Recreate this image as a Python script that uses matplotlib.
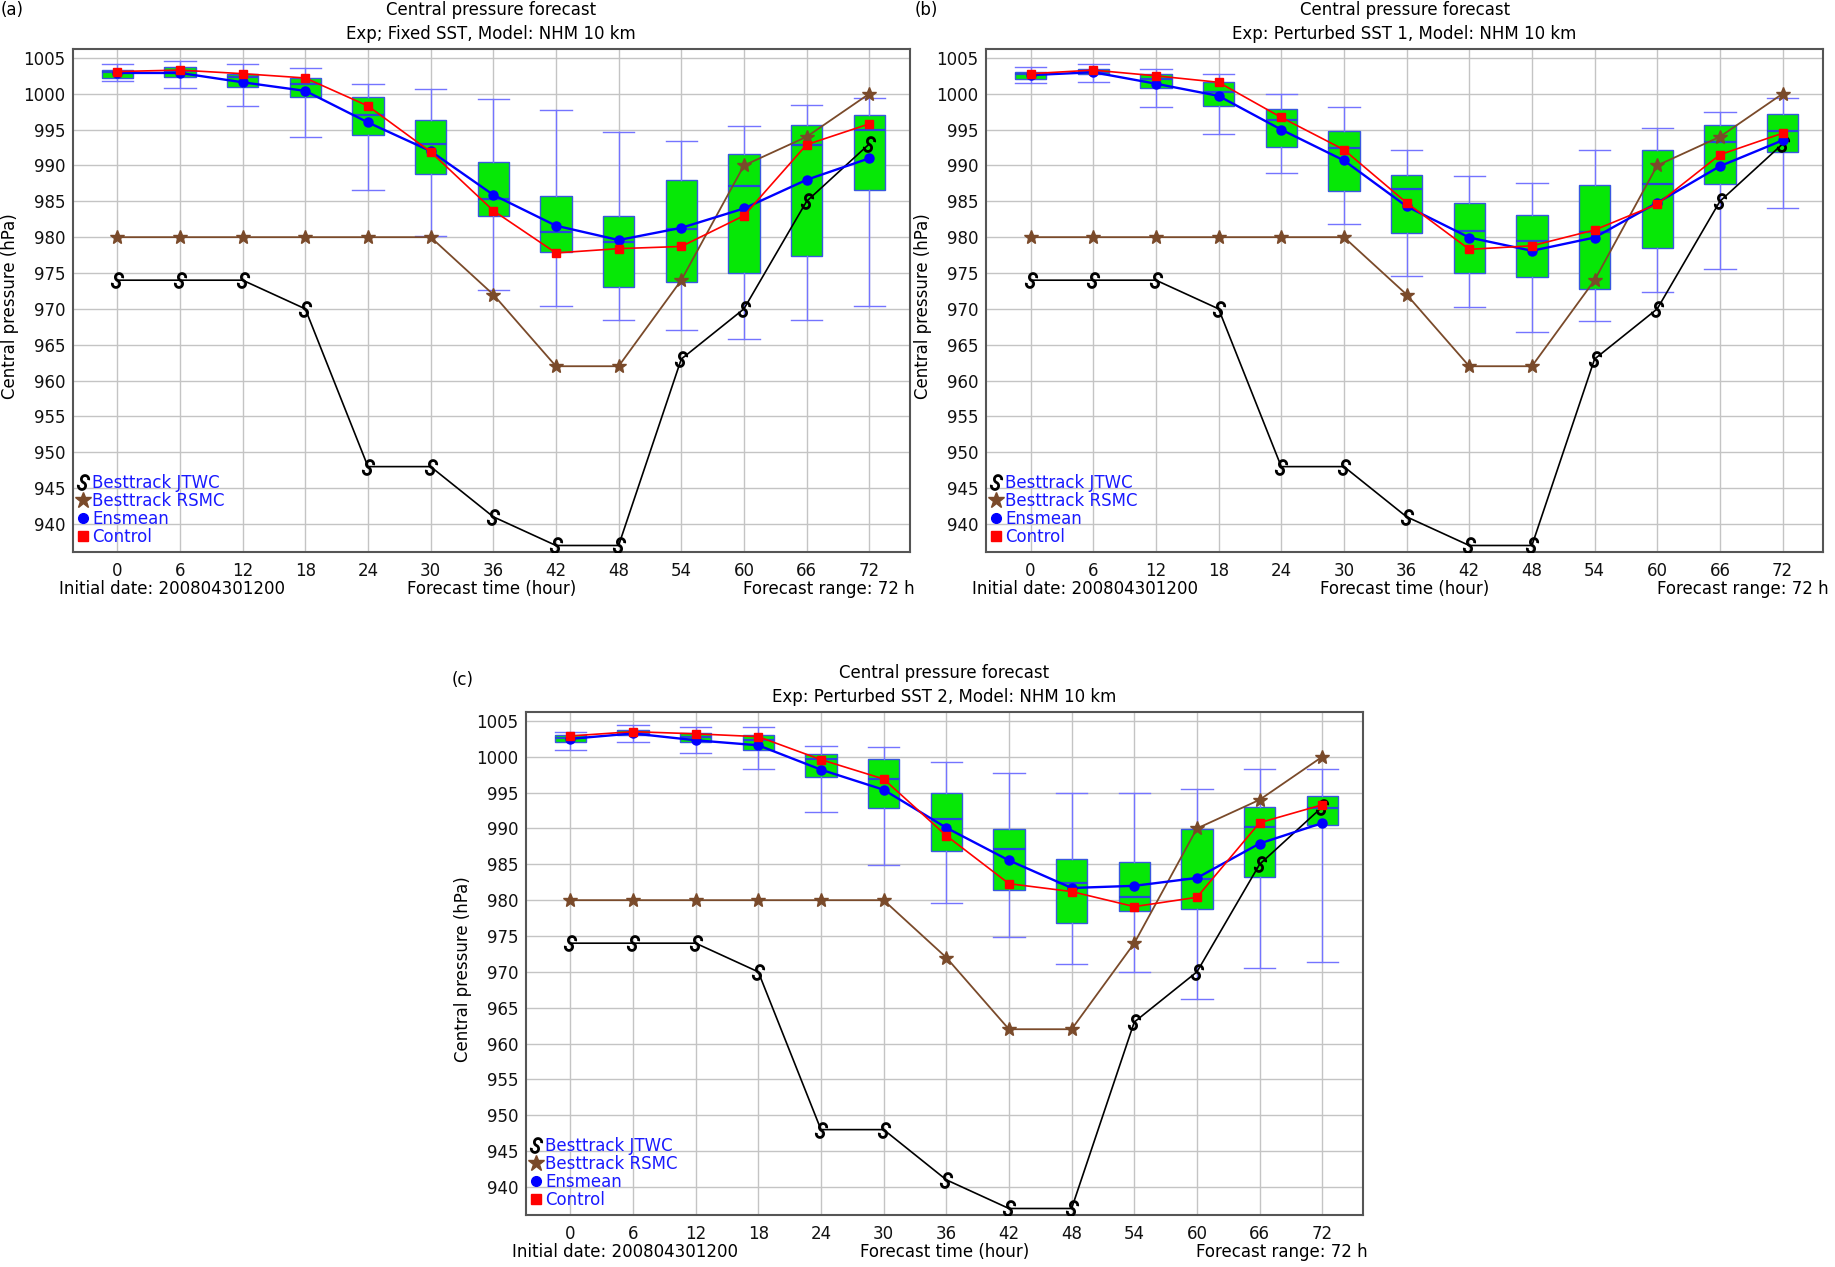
import matplotlib
matplotlib.use("Agg")
import matplotlib.pyplot as plt
import numpy as np
from matplotlib.lines import Line2D
from matplotlib.path import Path

plt.rcParams["font.family"] = ["DejaVu Sans"]

HOURS = [0, 6, 12, 18, 24, 30, 36, 42, 48, 54, 60, 66, 72]

# best track (same in all panels)
JTWC = [974, 974, 974, 970, 948, 948, 941, 937, 937, 963, 970, 985, 993]
RSMC = [980, 980, 980, 980, 980, 980, 972, 962, 962, 974, 990, 994, 1000]

# (a) Fixed SST
ENS_A = [1002.9, 1002.9, 1001.6, 1000.4, 996.0, 992.0, 985.9, 981.6, 979.6, 981.3, 984.0, 988.0, 991.0]
CTL_A = [1003.1, 1003.3, 1002.8, 1002.2, 998.3, 991.9, 983.7, 977.8, 978.4, 978.7, 983.0, 992.9, 995.8]
WLO_A = [1001.8, 1000.85, 998.3, 994.0, 986.6, 980.2, 972.6, 970.4, 968.5, 967.1, 965.8, 968.5, 970.4]
Q1_A = [1002.2, 1002.4, 1001.0, 999.5, 994.3, 988.8, 983.0, 977.95, 973.1, 973.8, 975.0, 977.4, 986.6]
MED_A = [1003.0, 1003.2, 1002.3, 1001.4, 997.0, 993.0, 985.3, 980.7, 979.3, 981.1, 987.1, 992.9, 995.0]
Q3_A = [1003.25, 1003.8, 1002.8, 1002.2, 999.6, 996.3, 990.5, 985.7, 982.95, 988.0, 991.6, 995.7, 997.0]
WHI_A = [1004.15, 1004.6, 1004.15, 1003.55, 1001.3, 1000.6, 999.25, 997.75, 994.65, 993.4, 995.5, 998.5, 999.4]

# (b) Perturbed SST 1
ENS_B = [1002.6, 1003.0, 1001.4, 999.7, 995.0, 990.7, 984.3, 979.95, 978.1, 979.95, 984.8, 989.9, 993.5]
CTL_B = [1002.8, 1003.3, 1002.5, 1001.6, 996.7, 992.2, 984.8, 978.3, 978.8, 981.0, 984.6, 991.5, 994.5]
WLO_B = [1001.5, 1001.6, 998.1, 994.4, 989.0, 981.8, 974.6, 970.2, 966.75, 968.25, 972.3, 975.6, 984.0]
Q1_B = [1002.1, 1002.7, 1000.75, 998.25, 992.6, 986.4, 980.6, 975.05, 974.5, 972.8, 978.5, 987.4, 991.9]
MED_B = [1002.7, 1003.0, 1002.1, 1000.3, 996.3, 992.4, 986.7, 980.9, 979.5, 980.7, 987.4, 993.3, 994.8]
Q3_B = [1003.0, 1003.5, 1002.7, 1001.6, 997.9, 994.8, 988.7, 984.8, 983.1, 987.3, 992.2, 995.6, 997.2]
WHI_B = [1003.7, 1004.1, 1003.5, 1002.7, 1000.0, 998.1, 992.1, 988.5, 987.6, 992.2, 995.2, 997.4, 999.4]

# (c) Perturbed SST 2
ENS_C = [1002.5, 1003.25, 1002.3, 1001.6, 998.2, 995.4, 990.1, 985.55, 981.7, 982.0, 983.1, 987.9, 990.75]
CTL_C = [1002.9, 1003.5, 1003.2, 1002.8, 999.6, 996.9, 989.0, 982.3, 981.2, 979.1, 980.4, 990.8, 993.3]
WLO_C = [1001.0, 1002.1, 1000.5, 998.3, 992.3, 984.85, 979.6, 974.8, 971.05, 970.0, 966.2, 970.5, 971.4]
Q1_C = [1002.0, 1003.0, 1002.0, 1000.9, 997.2, 992.9, 986.8, 981.45, 976.8, 978.5, 978.8, 983.2, 990.5]
MED_C = [1002.6, 1003.25, 1002.75, 1002.3, 999.7, 996.95, 991.3, 987.2, 982.4, 980.4, 982.9, 990.2, 992.8]
Q3_C = [1003.0, 1003.8, 1003.3, 1003.1, 1000.35, 999.7, 994.9, 989.9, 985.7, 985.3, 989.9, 993.0, 994.5]
WHI_C = [1003.5, 1004.45, 1004.2, 1004.1, 1001.55, 1001.3, 999.25, 997.7, 995.0, 994.9, 995.5, 998.3, 998.3]

PANELS = [
    ("(a)", "Exp; Fixed SST, Model: NHM 10 km", ENS_A, CTL_A, WLO_A, Q1_A, MED_A, Q3_A, WHI_A),
    ("(b)", "Exp: Perturbed SST 1, Model: NHM 10 km", ENS_B, CTL_B, WLO_B, Q1_B, MED_B, Q3_B, WHI_B),
    ("(c)", "Exp: Perturbed SST 2, Model: NHM 10 km", ENS_C, CTL_C, WLO_C, Q1_C, MED_C, Q3_C, WHI_C),
]

W, H = 1835, 1267
AX_W, AX_H = 837.3, 503.0
# axes (left, top) in pixels
AX_POS = [(72.7, 49.3), (986.0, 49.3), (525.7, 712.3)]
LABEL_POS = [(1, 10), (915, 10), (452, 680)]

BROWN = "#7a4a2a"
TEXT_BLUE = "#1a1aff"
FS = 12


def typhoon_marker():
    # S-shaped tropical cyclone glyph
    t1 = np.linspace(np.radians(10), np.radians(270), 30)
    top = np.column_stack([0.42 * np.cos(t1), 0.42 + 0.42 * np.sin(t1)])
    t2 = np.linspace(np.radians(90), np.radians(-170), 30)
    bot = np.column_stack([0.42 * np.cos(t2), -0.42 + 0.42 * np.sin(t2)])
    verts = np.vstack([top, bot])
    rot = np.radians(-25)
    R = np.array([[np.cos(rot), -np.sin(rot)], [np.sin(rot), np.cos(rot)]])
    verts = verts @ R.T
    return Path(verts)


TY = typhoon_marker()


def draw_panel(fig, idx, label, exp, ens, ctl, wlo, q1, med, q3, whi):
    left, top = AX_POS[idx]
    ax = fig.add_axes([left / W, 1 - (top + AX_H) / H, AX_W / W, AX_H / H])

    stats = []
    for lo, a, m, b, hi in zip(wlo, q1, med, q3, whi):
        stats.append({"whislo": lo, "q1": a, "med": m, "q3": b, "whishi": hi, "fliers": []})
    ax.bxp(stats, positions=HOURS, widths=3.0, capwidths=3.0, patch_artist=True,
           showfliers=False, manage_ticks=False,
           boxprops=dict(facecolor="#06e806", edgecolor="#3858e0", linewidth=1.0),
           whiskerprops=dict(color="#7474ff", linewidth=1.0),
           capprops=dict(color="#7474ff", linewidth=1.0),
           medianprops=dict(color="#2848d8", linewidth=1.6))

    ax.plot(HOURS, JTWC, color="black", lw=1.2, marker=TY, ms=10,
            mfc="none", mec="black", mew=2.0, zorder=4)
    ax.plot(HOURS, RSMC, color=BROWN, lw=1.3, marker="*", ms=10,
            mfc=BROWN, mec=BROWN, zorder=4)
    ax.plot(HOURS, ens, color="#0000ff", lw=1.7, marker="o", ms=6.5, zorder=5)
    ax.plot(HOURS, ctl, color="#ff0000", lw=1.2, marker="s", ms=6, zorder=6)

    ax.set_xlim(-4.27, 75.9)
    ax.set_ylim(936.05, 1006.2)
    ax.set_xticks(HOURS)
    ax.set_yticks(np.arange(940, 1006, 5))
    ax.tick_params(length=0, labelsize=FS, colors="#111111")
    ax.tick_params(axis="x", pad=7)
    ax.tick_params(axis="y", pad=5.5)
    ax.grid(True, color="#c4c4c4", lw=1.0)
    ax.set_axisbelow(True)
    for sp in ax.spines.values():
        sp.set_color("#555555")
        sp.set_linewidth(1.5)

    ax.set_ylabel("Central pressure (hPa)", fontsize=FS, va="center")
    ax.yaxis.set_label_coords(-63 / AX_W, 0.49)

    ax.annotate("Central pressure forecast", xy=(0.5, 1), xycoords="axes fraction",
                xytext=(0, 28.5), textcoords="offset points", ha="center", va="center",
                fontsize=FS)
    ax.annotate(exp, xy=(0.5, 1), xycoords="axes fraction",
                xytext=(0, 10.8), textcoords="offset points", ha="center", va="center",
                fontsize=FS)

    ax.annotate("Initial date: 200804301200", xy=(0, 0), xycoords="axes fraction",
                xytext=(-10, -26.6), textcoords="offset points", ha="left", va="center",
                fontsize=FS)
    ax.annotate("Forecast time (hour)", xy=(0.5, 0), xycoords="axes fraction",
                xytext=(0, -26.6), textcoords="offset points", ha="center", va="center",
                fontsize=FS)
    ax.annotate("Forecast range: 72 h", xy=(1, 0), xycoords="axes fraction",
                xytext=(3.6, -26.6), textcoords="offset points", ha="right", va="center",
                fontsize=FS)

    handles = [
        Line2D([], [], ls="none", marker=TY, ms=10, mfc="none", mec="black", mew=2.0),
        Line2D([], [], ls="none", marker="*", ms=12, color=BROWN),
        Line2D([], [], ls="none", marker="o", ms=7, color="#0000ff"),
        Line2D([], [], ls="none", marker="s", ms=6.5, color="#ff0000"),
    ]
    ax.legend(handles, ["Besttrack JTWC", "Besttrack RSMC", "Ensmean", "Control"],
              loc="lower left", bbox_to_anchor=(0.004, 0.012), frameon=False,
              fontsize=FS, labelcolor=TEXT_BLUE, borderpad=0, borderaxespad=0,
              handlelength=0.8, handletextpad=0.15, labelspacing=0.0)

    lx, ly = LABEL_POS[idx]
    fig.text(lx / W, 1 - ly / H, label, ha="left", va="center", fontsize=FS)


fig = plt.figure(figsize=(W / 100, H / 100), dpi=100)
for i, p in enumerate(PANELS):
    draw_panel(fig, i, *p)

fig.savefig("out.png", dpi=100, facecolor="white")
